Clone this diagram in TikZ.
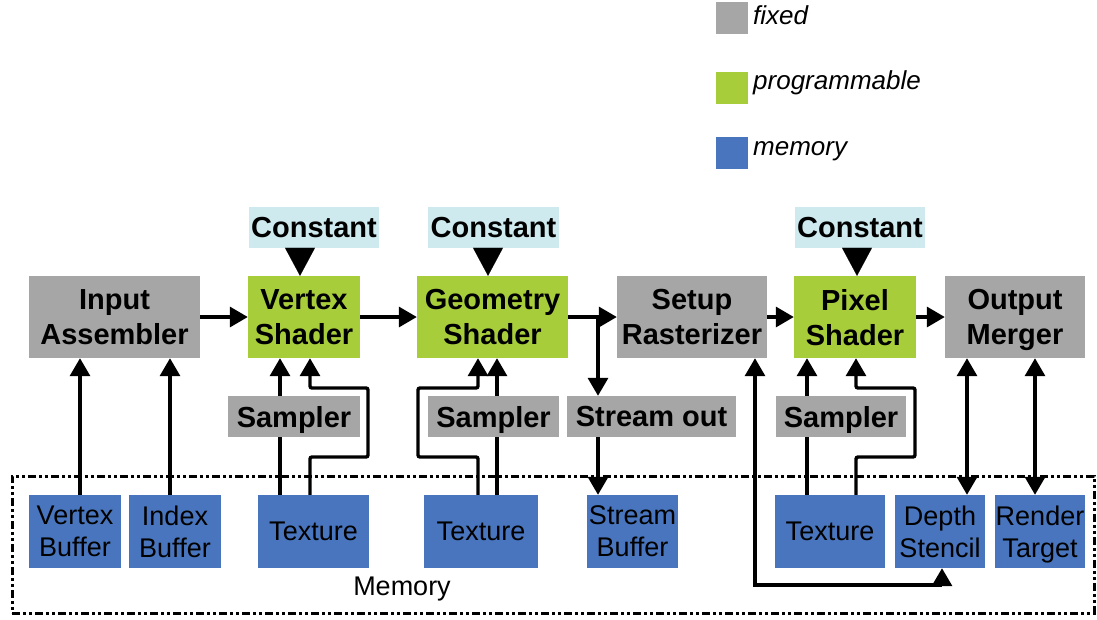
\documentclass[tikz,border=0pt]{standalone}
\usepackage{fontspec}
\setmainfont{Liberation Sans}
\usetikzlibrary{arrows.meta}
\definecolor{fixgray}{RGB}{166,166,166}
\definecolor{proggreen}{RGB}{168,205,58}
\definecolor{memblue}{RGB}{72,117,189}
\definecolor{constcyan}{RGB}{206,234,238}

\begin{document}
\begin{tikzpicture}[x=1pt,y=-1pt,
  box/.style={rectangle, inner sep=0pt, align=center, text=black, text depth=0pt},
  sz/.style 2 args={minimum width=#1pt, minimum height=#2pt},
  bold/.style={font=\fontsize{29}{35}\selectfont\bfseries},
  fixedbox/.style={box, bold, fill=fixgray},
  progbox/.style={box, bold, fill=proggreen},
  constbox/.style={box, bold, fill=constcyan},
  membox/.style={box, fill=memblue, font=\fontsize{27}{32}\selectfont},
  legendsq/.style={rectangle, inner sep=0pt, minimum size=32pt},
  legendtxt/.style={anchor=base west, inner sep=0pt, font=\fontsize{26}{30}\selectfont\itshape},
  memframe/.style={rectangle, draw, line width=3pt, dash pattern=on 8pt off 3pt on 3pt off 3pt on 3pt off 3pt},
  flow/.style={line width=3.4pt, -{Triangle[length=18pt,width=20pt]}},
  duplex/.style={line width=3.4pt, {Triangle[length=18pt,width=20pt]}-{Triangle[length=18pt,width=20pt]}},
  wire/.style={line width=3.4pt},
  constflow/.style={line width=0.1pt, -{Triangle[length=28pt,width=30pt]}},
]
\useasboundingbox (0,0) rectangle (1097,619);

% legend
\node[legendsq, fill=fixgray] (lg1) at (731.5,17.5) {};
\node[legendtxt] (lt1) at (753,24) {fixed};
\node[legendsq, fill=proggreen] (lg2) at (731.5,87.5) {};
\node[legendtxt] (lt2) at (753,89) {programmable};
\node[legendsq, fill=memblue] (lg3) at (731.5,152.5) {};
\node[legendtxt] (lt3) at (753,155) {memory};

% memory region
\node[memframe, sz={1082}{137}] (mem) at (553,544.5) {};
\node[inner sep=0pt, font=\fontsize{27}{30}\selectfont] (memlbl) at (402,589) {Memory};

% pipeline stages
\node[fixedbox, sz={171}{82}] (ia) at (114.5,317) {Input\\Assembler};
\node[progbox, sz={112}{82}] (vs) at (304,317) {Vertex\\Shader};
\node[progbox, sz={151}{82}] (gs) at (492.5,317) {Geometry\\Shader};
\node[fixedbox, sz={150}{82}] (sr) at (692,317) {Setup\\Rasterizer};
\node[progbox, sz={122}{82}] (ps) at (855,317) {Pixel\\Shader};
\node[fixedbox, sz={140}{82}] (om) at (1015,317) {Output\\Merger};

% constant buffers
\node[constbox, sz={130}{41}] (c1) at (314,227.5) {Constant};
\node[constbox, sz={131}{41}] (c2) at (493.5,227.5) {Constant};
\node[constbox, sz={130}{41}] (c3) at (860,227.5) {Constant};

% samplers and stream out
\node[fixedbox, sz={132}{41}] (s1) at (294,416.5) {Sampler};
\node[fixedbox, sz={131}{41}] (s2) at (493.5,416.5) {Sampler};
\node[fixedbox, sz={169}{41}] (so) at (651.5,416.5) {Stream out};
\node[fixedbox, sz={130}{41}] (s3) at (841,416.5) {Sampler};

% memory resources
\node[membox, sz={92}{73}] (vb) at (75,531.5) {Vertex\\Buffer};
\node[membox, sz={92}{73}] (ib) at (175,531.5) {Index\\Buffer};
\node[membox, sz={111}{73}] (t1) at (313.5,531.5) {Texture};
\node[membox, sz={114}{73}] (t2) at (481,531.5) {Texture};
\node[membox, sz={91}{73}] (sb) at (632.5,531.5) {Stream\\Buffer};
\node[membox, sz={110}{73}] (t3) at (830,531.5) {Texture};
\node[membox, sz={90}{73}] (ds) at (940,531.5) {Depth\\Stencil};
\node[membox, sz={90}{73}] (rt) at (1040,531.5) {Render\\Target};

% vertical tracks
\coordinate (x80) at (80,0);
\coordinate (x170) at (170,0);
\coordinate (x280) at (280,0);
\coordinate (x300) at (300,0);
\coordinate (x310) at (310,0);
\coordinate (x478) at (478,0);
\coordinate (x488) at (488,0);
\coordinate (x497) at (497,0);
\coordinate (x598) at (598,0);
\coordinate (x755) at (755,0);
\coordinate (x807) at (807,0);
\coordinate (x856) at (856,0);
\coordinate (x857) at (857,0);
\coordinate (x942) at (942,0);
\coordinate (x967) at (967,0);
\coordinate (x1035) at (1035,0);
% bends of the routed wires
\coordinate (w1) at (368,457);
\coordinate (w2) at (310,388);
\coordinate (w3) at (418,457);
\coordinate (w4) at (478,388);
\coordinate (w5) at (915,457);
\coordinate (w6) at (856,388);
\coordinate (w7) at (942,585);

% constants feeding the shaders
\draw[constflow] (c1.south -| x300) -- (vs.north -| x300);
\draw[constflow] (c2.south -| x488) -- (gs.north -| x488);
\draw[constflow] (c3.south -| x857) -- (ps.north -| x857);

% main pipeline flow
\draw[flow] (ia.east) -- (vs.west);
\draw[flow] (vs.east) -- (gs.west);
\draw[flow] (gs.east) -- (sr.west);
\draw[flow] (sr.east) -- (ps.west);
\draw[flow] (ps.east) -- (om.west);

% stream output branch
\draw[flow] (gs.east -| x598) -- (so.north -| x598);
\draw[flow] (so.south -| x598) -- (sb.north -| x598);

% input assembler buffers
\draw[flow] (vb.north -| x80) -- (ia.south -| x80);
\draw[flow] (ib.north -| x170) -- (ia.south -| x170);

% vertex shader resources
\draw[wire] (t1.north -| x280) -- (s1.south -| x280);
\draw[flow] (s1.north -| x280) -- (vs.south -| x280);
\draw[flow, rounded corners=2pt] (t1.north -| x310) |- (w1) |- (w2) -- (vs.south -| x310);

% geometry shader resources
\draw[wire] (t2.north -| x497) -- (s2.south -| x497);
\draw[flow] (s2.north -| x497) -- (gs.south -| x497);
\draw[flow, rounded corners=2pt] (t2.north -| x478) |- (w3) |- (w4) -- (gs.south -| x478);

% pixel shader resources
\draw[wire] (t3.north -| x807) -- (s3.south -| x807);
\draw[flow] (s3.north -| x807) -- (ps.south -| x807);
\draw[flow, rounded corners=2pt] (t3.north -| x856) |- (w5) |- (w6) -- (ps.south -| x856);

% depth/stencil and render target access
\draw[duplex] (sr.south -| x755) |- (w7) -- (ds.south -| x942);
\draw[duplex] (om.south -| x967) -- (ds.north -| x967);
\draw[duplex] (om.south -| x1035) -- (rt.north -| x1035);
\end{tikzpicture}
\end{document}
